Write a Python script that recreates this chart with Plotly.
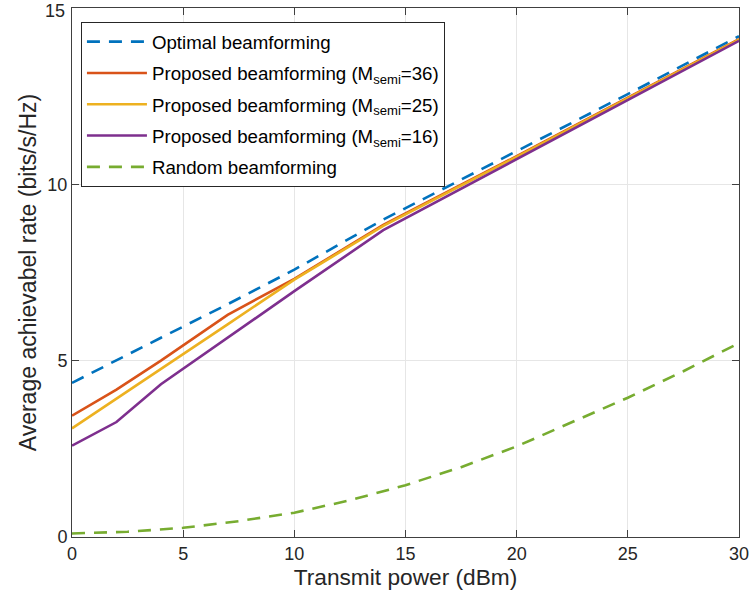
import plotly.graph_objects as go

x_pts = [0, 2, 4, 7, 10, 14, 20, 25, 30]
optimal = [4.37, 5.0, 5.65, 6.6, 7.58, 9.0, 10.93, 12.56, 14.2]
prop36 = [3.44, 4.18, 5.0, 6.3, 7.32, 8.85, 10.8, 12.46, 14.12]
prop25 = [3.08, 3.93, 4.77, 6.03, 7.3, 8.82, 10.78, 12.45, 14.1]
prop16 = [2.59, 3.26, 4.33, 5.65, 6.97, 8.7, 10.72, 12.4, 14.07]

x_rand = [0, 2.5, 5, 7.5, 10, 12.5, 15, 17.5, 20, 22.5, 25, 27.5, 30]
random_bf = [0.1, 0.15, 0.26, 0.45, 0.69, 1.04, 1.47, 1.98, 2.57, 3.25, 3.95, 4.7, 5.5]

y_ticks = [0, 5, 10, 15]
x_ticks = [0, 5, 10, 15, 20, 25, 30]

names = [
    "Optimal beamforming",
    "Proposed beamforming (M<sub>semi</sub>=36)",
    "Proposed beamforming (M<sub>semi</sub>=25)",
    "Proposed beamforming (M<sub>semi</sub>=16)",
    "Random beamforming",
]
colors = ["#0072BD", "#D95319", "#EDB120", "#7E2F8E", "#77AC30"]

FONT = "Liberation Sans, Arial, Helvetica, sans-serif"
TXT = "#262626"

fig = go.Figure()
series = [(x_pts, optimal, True), (x_pts, prop36, False), (x_pts, prop25, False),
          (x_pts, prop16, False), (x_rand, random_bf, True)]
for i, ((xs, ys, dashed), nm, c) in enumerate(zip(series, names, colors)):
    fig.add_trace(go.Scatter(
        x=xs, y=ys, mode="lines", name=nm, legendgroup=f"g{i}",
        line=dict(color=c, width=2.6, dash="13px,9px" if dashed else "solid"),
    ))

axis_common = dict(
    showline=True, linecolor="#404040", linewidth=1, mirror="allticks",
    ticks="inside", ticklen=7, tickcolor="#404040", tickwidth=1,
    showgrid=True, gridcolor="#e6e6e6", gridwidth=1, zeroline=False,
    tickfont=dict(family=FONT, size=18, color=TXT),
)

# top y tick label drawn as annotation (plotly drops it at the very figure edge)
top_tick = y_ticks[-1]
fig.add_annotation(
    xref="paper", yref="y", x=0, y=top_tick, text=str(top_tick),
    showarrow=False, xanchor="right", yanchor="top", xshift=-6, yshift=8,
    borderpad=0,
    font=dict(family=FONT, size=18, color=TXT),
)

fig.update_layout(
    width=756, height=607,
    margin=dict(l=72, r=13, t=7, b=70),
    paper_bgcolor="white", plot_bgcolor="white",
    font=dict(family=FONT, size=18, color=TXT),
    xaxis=dict(range=[0, 30], tickvals=x_ticks,
               title=dict(text="Transmit power (dBm)", font=dict(size=22.7), standoff=5),
               **axis_common),
    yaxis=dict(range=[0, 15], tickvals=y_ticks,
               ticktext=[str(v) for v in y_ticks[:-1]] + [""],
               title=dict(text="Average achievabel rate (bits/s/Hz)", font=dict(size=23), standoff=4),
               **axis_common),
    legend=dict(
        x=0.0134, y=0.9736, xanchor="left", yanchor="top",
        bgcolor="white", bordercolor=TXT, borderwidth=1,
        font=dict(family=FONT, size=18.7, color="#000000"),
        itemwidth=60, tracegroupgap=4, traceorder="grouped",
    ),
    showlegend=True,
)

fig.write_html("out.html")
